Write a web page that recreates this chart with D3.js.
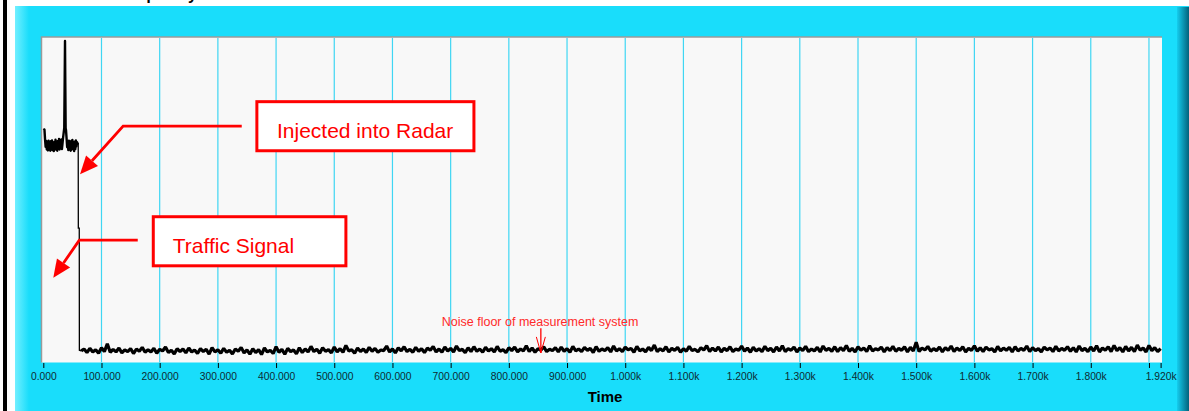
<!DOCTYPE html>
<html>
<head>
<meta charset="utf-8">
<script src="https://cdn.jsdelivr.net/npm/d3@7"></script>
<style>
  html, body { margin: 0; padding: 0; background: #ffffff; }
  svg { display: block; font-family: Arial, "Liberation Sans", sans-serif; }
</style>
</head>
<body>
<div id="chart"></div>
<script>
// onset: the tone before/while it is injected (time, level dB)
const onsetTime = [0, 2, 3, 4, 5, 6, 7, 8, 9, 10, 11, 12, 13, 14, 15, 16, 17, 18, 19, 20,
  21, 22, 23, 24, 25, 26, 27, 28, 29, 30, 31, 32, 33, 34, 35, 36, 36.8, 37.3, 37.8, 38.4,
  39, 40, 41, 42, 43, 44, 45, 46, 47, 48, 49, 50, 51, 52, 53, 54, 55, 56, 57, 58,
  59, 60];
const onsetLevel = [-28.3, -28.5, -31.5, -33.8, -32.0, -34.6, -32.4, -34.9, -31.9, -34.2, -32.6, -35.0, -32.1, -34.4, -31.8, -34.8, -32.9, -35.1, -32.3, -34.0,
  -31.6, -34.7, -32.5, -35.0, -32.0, -34.3, -31.4, -34.6, -32.2, -33.9, -31.5, -34.5, -32.8, -31.0, -29.5, -28.0, -12.0, -1.2, -14.0, -28.1,
  -28.6, -31.2, -33.9, -32.1, -34.8, -31.9, -34.3, -32.6, -35.0, -32.0, -34.6, -31.7, -34.2, -32.4, -35.1, -32.2, -34.5, -31.8, -33.6, -32.4,
  -32.8, -32.6];

// the two steps down to the noise floor
const dropTime = [60, 60.2, 61.8, 62, 65];
const dropLevel = [-32.6, -58.8, -58.8, -96.4, -96.6];

// noise floor, one reading every 5 time units from t = 65 to t = 1920
const noiseStart = 65;
const noiseStep = 5;
const noiseLevel = [
  -96.6,-96.0,-97.1,-95.8,-96.9,-96.2,-97.3,-95.6,-96.8,-94.4,-97.0,-96.1,-96.9,-95.7,-97.2,-96.3,-96.8,-95.9,-97.4,-96.0,
  -96.7,-95.5,-97.0,-96.2,-96.9,-95.8,-97.3,-96.1,-96.6,-95.4,-97.1,-96.4,-97.5,-95.9,-96.8,-96.0,-97.2,-95.7,-96.9,-96.3,
  -97.4,-95.9,-96.8,-96.1,-97.6,-95.6,-96.9,-96.2,-97.3,-95.8,-97.0,-96.4,-97.5,-96.0,-96.7,-95.5,-97.2,-96.3,-97.6,-95.9,
  -97.1,-96.2,-97.7,-95.7,-96.9,-96.4,-97.4,-95.3,-97.0,-96.1,-97.6,-95.8,-96.8,-96.3,-97.5,-95.6,-97.1,-96.0,-96.9,-95.2,
  -96.8,-96.1,-97.3,-95.6,-96.7,-96.2,-97.2,-95.4,-96.9,-95.9,-97.0,-94.9,-96.6,-96.2,-97.3,-95.7,-96.8,-96.0,-97.1,-95.5,
  -96.7,-95.8,-97.0,-96.3,-96.5,-95.1,-96.9,-96.0,-97.2,-95.6,-96.6,-95.3,-96.8,-96.1,-97.0,-95.5,-96.7,-95.9,-97.1,-95.7,
  -96.4,-95.2,-96.9,-96.0,-97.0,-95.4,-96.6,-95.8,-96.9,-95.1,-96.5,-96.1,-97.1,-95.6,-96.8,-95.3,-96.7,-96.0,-97.0,-95.5,
  -96.6,-95.9,-96.9,-95.2,-96.7,-96.2,-97.1,-95.6,-96.5,-95.4,-96.9,-96.0,-96.6,-95.0,-96.8,-95.7,-97.0,-95.9,-96.4,-95.3,
  -96.8,-96.1,-96.5,-95.6,-96.9,-95.4,-96.7,-95.9,-97.0,-95.2,-96.6,-96.0,-96.8,-95.5,-96.4,-95.8,-97.1,-95.3,-96.7,-96.0,
  -96.5,-95.6,-96.9,-95.1,-96.6,-95.9,-96.8,-95.4,-96.3,-95.8,-97.0,-95.2,-96.6,-96.0,-96.9,-95.5,-96.5,-94.8,-96.8,-95.9,
  -96.6,-95.3,-96.9,-95.8,-96.4,-95.5,-97.0,-95.9,-96.7,-95.2,-96.5,-96.1,-96.9,-95.6,-96.3,-95.0,-96.8,-95.7,-96.6,-95.4,
  -96.9,-95.8,-96.5,-95.3,-96.8,-96.0,-96.4,-95.1,-96.7,-95.7,-97.0,-95.5,-96.6,-95.9,-96.8,-95.2,-96.5,-95.8,-96.9,-95.4,
  -96.6,-95.0,-96.8,-95.9,-96.4,-95.4,-96.9,-95.7,-96.5,-95.2,-96.8,-96.0,-96.6,-95.5,-96.9,-95.1,-96.4,-95.8,-96.7,-95.3,
  -96.8,-95.6,-96.5,-94.9,-96.7,-95.8,-96.9,-95.3,-96.4,-95.7,-96.8,-95.0,-96.6,-95.9,-96.3,-95.4,-96.9,-95.6,-96.5,-95.2,
  -96.7,-95.8,-96.4,-95.3,-96.9,-95.5,-96.6,-93.9,-96.8,-95.7,-96.3,-95.2,-96.7,-95.9,-96.5,-95.4,-96.9,-95.6,-96.4,-95.1,
  -96.8,-95.7,-96.5,-95.3,-96.9,-95.8,-96.4,-95.0,-96.7,-95.6,-96.8,-95.4,-96.3,-95.9,-96.9,-95.2,-96.6,-95.7,-96.4,-95.5,
  -96.9,-95.3,-96.6,-95.8,-96.4,-95.1,-96.8,-95.6,-96.5,-95.9,-96.9,-95.4,-96.3,-95.7,-96.8,-95.2,-96.6,-95.8,-96.4,-95.3,
  -96.7,-95.6,-96.9,-95.1,-96.5,-95.8,-96.8,-95.4,-96.6,-95.0,-96.9,-95.7,-96.4,-95.3,-96.8,-94.9,-96.5,-95.6,-96.9,-95.2,
  -96.6,-95.5,-96.8,-94.8,-96.4,-95.7,-96.9,-94.9,-96.5,-95.6,-96.8,-95.9
];

// x axis
const tickValues = [0, 100, 200, 300, 400, 500, 600, 700, 800, 900, 1000, 1100, 1200, 1300, 1400, 1500, 1600, 1700, 1800, 1900, 1920];
const tickLabels = ['0.000', '100.000', '200.000', '300.000', '400.000', '500.000', '600.000', '700.000', '800.000', '900.000',
  '1.000k', '1.100k', '1.200k', '1.300k', '1.400k', '1.500k', '1.600k', '1.700k', '1.800k', '', '1.920k'];
const gridValues = [100, 200, 300, 400, 500, 600, 700, 800, 900, 1000, 1100, 1200, 1300, 1400, 1500, 1600, 1700, 1800, 1900];

// callouts, in data units (time, dB)
const callouts = [
  { text: 'Injected into Radar', box: [367, 740, -19.9, -35.0], textAt: [553, -31.2], anchor: 'middle',
    arrow: [[341, -27.4], [137.2, -27.4], [63.1, -42.2]] },
  { text: 'Traffic Signal', box: [189, 520, -55.3, -70.4], textAt: [222.4, -66.5], anchor: 'start',
    arrow: [[162.3, -62.5], [61.9, -62.5], [17.2, -74.1]] }
];
const noiseNote = { text: 'Noise floor of measurement system', at: [853.7, -88.8], from: [855, -89.6], to: [855, -97.2] };

const W = 1189, H = 411;
const plot = { left: 41.5, right: 1162, top: 37, bottom: 362.5 };

const svg = d3.select('#chart').append('svg').attr('width', W).attr('height', H);
const defs = svg.append('defs');

const gl = defs.append('linearGradient').attr('id', 'leftEdge');
gl.append('stop').attr('offset', '0%').attr('stop-color', '#72efff');
gl.append('stop').attr('offset', '100%').attr('stop-color', '#19ddfb');
const gr = defs.append('linearGradient').attr('id', 'rightEdge');
gr.append('stop').attr('offset', '0%').attr('stop-color', '#14cdee');
gr.append('stop').attr('offset', '100%').attr('stop-color', '#03627c');

// title above the panel, only its bottom edge is in view
svg.append('text').attr('x', 116).attr('y', -0.5)
  .attr('font-size', 16).attr('font-weight', 'bold').attr('fill', '#000').text('Frequency');

// frame
svg.append('rect').attr('x', 3).attr('y', 0).attr('width', 4).attr('height', H).attr('fill', '#000');
svg.append('rect').attr('x', 15).attr('y', 6).attr('width', 1174).attr('height', H - 6).attr('fill', '#19ddfb');
svg.append('rect').attr('x', 15).attr('y', 6).attr('width', 14).attr('height', H - 6).attr('fill', 'url(#leftEdge)');
svg.append('rect').attr('x', 1177).attr('y', 7).attr('width', 12).attr('height', H - 7).attr('fill', 'url(#rightEdge)');

// plot area
svg.append('rect')
  .attr('x', plot.left).attr('y', plot.top)
  .attr('width', plot.right - plot.left).attr('height', plot.bottom - plot.top)
  .attr('fill', '#f8f8f8');
svg.append('path')
  .attr('d', `M${plot.left},${plot.bottom}V${plot.top}H${plot.right}`)
  .attr('fill', 'none').attr('stroke', '#9a9a9a').attr('stroke-width', 1.5);

const x = d3.scaleLinear().domain([0, 1920]).range([43.3, 1160.6]);
const y = d3.scaleLinear().domain([-100, 0]).range([362, 37]);

// grid
svg.append('g').selectAll('line')
  .data(gridValues)
  .enter()
  .append('line')
  .attr('x1', d => x(d)).attr('x2', d => x(d))
  .attr('y1', plot.top + 1).attr('y2', plot.bottom)
  .attr('stroke', '#3fd6f3').attr('stroke-width', 1.2);

// signal
const line = d3.line().x(d => x(d.t)).y(d => y(d.v));
const onset = onsetTime.map((t, i) => ({ t, v: onsetLevel[i] }));
const drop = dropTime.map((t, i) => ({ t, v: dropLevel[i] }));
const noise = noiseLevel.map((v, i) => ({ t: noiseStart + i * noiseStep, v }));

svg.append('path').datum(drop)
  .attr('fill', 'none').attr('stroke', '#000').attr('stroke-width', 1.3)
  .attr('d', line);
svg.append('path').datum(onset)
  .attr('fill', 'none').attr('stroke', '#000').attr('stroke-width', 2.4)
  .attr('stroke-linejoin', 'round')
  .attr('d', line);
svg.append('path').datum(noise)
  .attr('fill', 'none').attr('stroke', '#000').attr('stroke-width', 3.2)
  .attr('stroke-linejoin', 'bevel')
  .attr('d', line);

// x axis
const xAxis = svg.append('g')
  .attr('transform', `translate(0, ${plot.bottom + 0.5})`)
  .call(d3.axisBottom(x).tickValues(tickValues).tickFormat((d, i) => tickLabels[i]).tickSize(5).tickPadding(5));
xAxis.select('.domain').remove();
xAxis.selectAll('line').attr('stroke', '#000');
xAxis.selectAll('text')
  .attr('fill', '#0d2a30')
  .attr('font-size', 10.3)
  .attr('font-family', 'Arial, "Liberation Sans", sans-serif');

svg.append('text')
  .attr('x', 605).attr('y', 402)
  .attr('text-anchor', 'middle')
  .attr('font-size', 15).attr('font-weight', 'bold').attr('fill', '#000')
  .text('Time');

// callouts
const red = '#ff0000';
function arrowHead(p0, p1, len, half) {
  const dx = p1[0] - p0[0], dy = p1[1] - p0[1];
  const l = Math.hypot(dx, dy), ux = dx / l, uy = dy / l;
  const bx = p1[0] - ux * len, by = p1[1] - uy * len;
  return [[p1[0], p1[1]], [bx - uy * half, by + ux * half], [bx + uy * half, by - ux * half]];
}

callouts.forEach(c => {
  const pts = c.arrow.map(p => [x(p[0]), y(p[1])]);
  const n = pts.length;
  const head = arrowHead(pts[n - 2], pts[n - 1], 18, 8);
  const shaft = pts.slice(0, n - 1).concat([[(head[1][0] + head[2][0]) / 2, (head[1][1] + head[2][1]) / 2]]);
  svg.append('path')
    .attr('d', d3.line()(shaft))
    .attr('fill', 'none').attr('stroke', red).attr('stroke-width', 2.8);
  svg.append('path').attr('d', d3.line()(head) + 'Z').attr('fill', red);

  svg.append('rect')
    .attr('x', x(c.box[0])).attr('y', y(c.box[2]))
    .attr('width', x(c.box[1]) - x(c.box[0])).attr('height', y(c.box[3]) - y(c.box[2]))
    .attr('fill', '#fff').attr('stroke', red).attr('stroke-width', 3);
  svg.append('text')
    .attr('x', x(c.textAt[0])).attr('y', y(c.textAt[1]))
    .attr('text-anchor', c.anchor)
    .attr('font-size', 21).attr('fill', red)
    .text(c.text);
});

// noise floor note
svg.append('text')
  .attr('x', x(noiseNote.at[0])).attr('y', y(noiseNote.at[1]))
  .attr('text-anchor', 'middle').attr('font-size', 12.5).attr('fill', '#ff2a2a')
  .text(noiseNote.text);
const nx = x(noiseNote.from[0]), ny0 = y(noiseNote.from[1]), ny1 = y(noiseNote.to[1]);
svg.append('line').attr('x1', nx).attr('x2', nx).attr('y1', ny0).attr('y2', ny1)
  .attr('stroke', red).attr('stroke-width', 1.3);
svg.append('path')
  .attr('d', `M${nx - 4.5},${ny1 - 16}L${nx},${ny1}L${nx + 4.5},${ny1 - 16}`)
  .attr('fill', 'none').attr('stroke', red).attr('stroke-width', 1);
</script>
</body>
</html>
